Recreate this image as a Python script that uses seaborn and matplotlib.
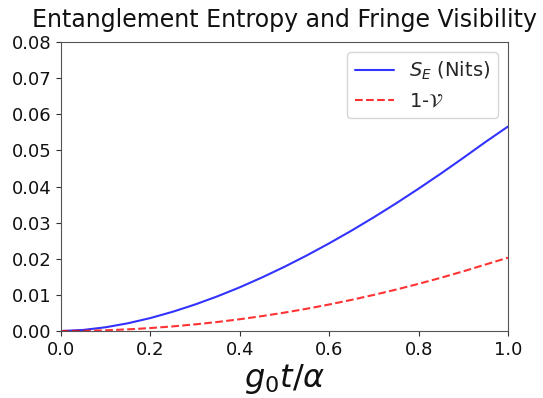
import numpy as np
import pandas as pd
import matplotlib
matplotlib.use("Agg")
import matplotlib.pyplot as plt
import seaborn as sns

x_vals = [0.0, 0.05, 0.1, 0.15, 0.2, 0.25, 0.3, 0.35, 0.4, 0.45, 0.5,
          0.55, 0.6, 0.65, 0.7, 0.75, 0.8, 0.85, 0.9, 0.95, 1.0]
entropy_vals = [0.0, 0.0003, 0.00104, 0.00215, 0.00359, 0.00533, 0.00734, 0.0096,
                0.0121, 0.01484, 0.01778, 0.02093, 0.02427, 0.02779, 0.03149,
                0.03536, 0.0394, 0.04359, 0.04792, 0.05235, 0.0566]
visloss_vals = [0.0, 0.00005, 0.0002, 0.00046, 0.00082, 0.00128, 0.00184, 0.0025,
                0.00326, 0.00413, 0.0051, 0.00617, 0.00734, 0.00862, 0.01,
                0.01148, 0.01306, 0.01474, 0.01652, 0.01841, 0.0203]
x_ticks = [0.0, 0.2, 0.4, 0.6, 0.8, 1.0]
y_ticks = [0.0, 0.01, 0.02, 0.03, 0.04, 0.05, 0.06, 0.07, 0.08]

sns.set_style("ticks")
plt.rcParams['font.family'] = ['DejaVu Sans']

fig = plt.figure(figsize=(5.43, 3.98), dpi=100)
ax = fig.add_axes([0.1123, 0.1683, 0.8232, 0.7262])

df = pd.DataFrame({"x": x_vals, "S": entropy_vals, "V": visloss_vals})
sns.lineplot(data=df, x="x", y="S", ax=ax, color="blue", lw=1.5, alpha=0.8,
             label="$S_E$ (Nits)")
sns.lineplot(data=df, x="x", y="V", ax=ax, color="red", lw=1.5, alpha=0.8,
             linestyle="--", label="1-$\\mathcal{V}$")

ax.set_xlim(0, 1)
ax.set_ylim(0, 0.08)
ax.set_xticks(x_ticks)
ax.set_yticks(y_ticks)
ax.set_yticklabels([f"{v:.2f}" for v in y_ticks])
ax.set_xticklabels([f"{v:.1f}" for v in x_ticks])
ax.tick_params(labelsize=13, length=3.5, color="#333333", colors="#111111")
for s in ax.spines.values():
    s.set_color("#555555")
    s.set_linewidth(0.8)
ax.set_xlabel("$g_0t/\\alpha$", fontsize=23, color="#111111", labelpad=2)
ax.set_ylabel("")
ax.set_title("Entanglement Entropy and Fringe Visibility", fontsize=17, color="#111111", pad=11)
ax.legend(loc="upper right", fontsize=14, frameon=True, fancybox=True,
          edgecolor="#cccccc", handlelength=2.0)

fig.savefig("out.png", dpi=100)
